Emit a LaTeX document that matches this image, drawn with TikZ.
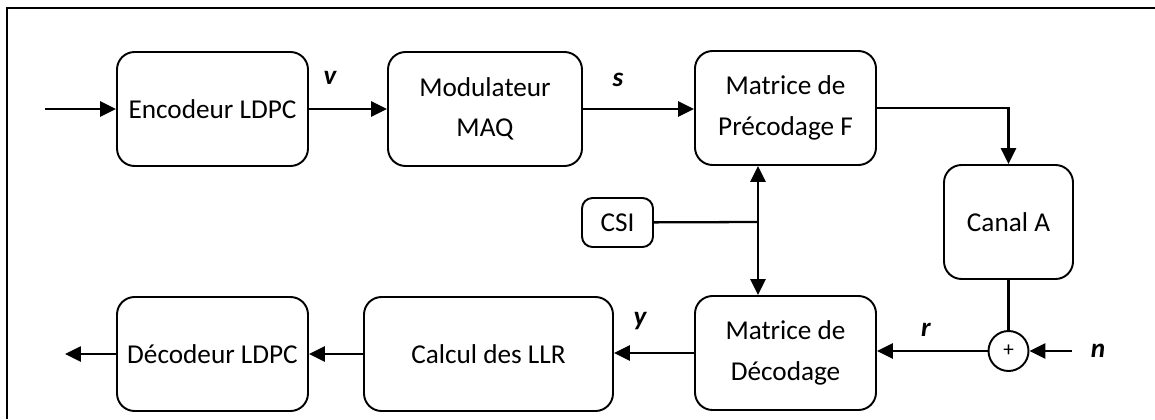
\documentclass[tikz,border=0pt]{standalone}
\usepackage{fontspec}
\setmainfont{Carlito}
\usetikzlibrary{arrows.meta}
\begin{document}
\begin{tikzpicture}[
    x=0.02cm, y=-0.02cm,
    >={Triangle[length=9pt, width=8.5pt]},
    line width=1.3pt,
    bloc/.style={draw, line width=1.1pt, rounded corners=10pt, align=center, inner sep=2pt,
                 minimum height=114*0.02cm, font=\fontsize{15.5}{23}\selectfont},
    lbl/.style={font=\fontsize{15.5}{18}\selectfont\bfseries\itshape, inner sep=0pt}
]
  \useasboundingbox (0,0) rectangle (1155,419);
  % frame
  \draw[line width=0.9pt] (7,419) -- (7,8) -- (1155,8);

  % nodes
  \node[bloc, minimum width=191*0.02cm] (enc)   at (212.5,109) {Encodeur LDPC};
  \node[bloc, minimum width=194*0.02cm] (mod)   at (485,109)   {Modulateur\\MAQ};
  \node[bloc, minimum width=181*0.02cm] (prec)  at (785.5,108) {Matrice de\\Précodage F};
  \node[bloc, minimum width=129*0.02cm] (canal) at (1008.5,222) {Canal A};
  \node[bloc, minimum width=71*0.02cm, minimum height=49*0.02cm, rounded corners=6pt] (csi) at (617.5,222.5) {CSI};
  \node[bloc, minimum width=181*0.02cm] (decmat) at (785.5,353) {Matrice de\\Décodage};
  \node[bloc, minimum width=249*0.02cm] (llr)   at (488.5,354) {Calcul des LLR};
  \node[bloc, minimum width=191*0.02cm] (dec)   at (212.5,354) {Décodeur LDPC};
  \node[draw, line width=1.1pt, circle, minimum size=40*0.02cm, inner sep=0pt, font=\fontsize{12}{14}\selectfont] (sum) at (1008.5,351) {+};

  \coordinate (in)  at (45,109);
  \coordinate (out) at (65,354);
  \coordinate (nin) at (1072,351);
  \coordinate (j)   at (758,222);

  % labels
  \node[lbl] (lv) at (330,78)   {v};
  \node[lbl] (ls) at (618,80)   {s};
  \node[lbl] (ly) at (640,321)  {y};
  \node[lbl] (lr) at (926,330)  {r};
  \node[lbl] (ln) at (1098,351) {n};

  % edges
  \draw[->] (in) -- (enc);
  \draw[->] (enc) -- (mod);
  \draw[->] (mod) -- (mod -| prec.west);
  \draw[->] (prec.east) -| (canal.north);
  \draw (canal) -- (sum);
  \draw[->] (nin) -- (sum);
  \draw[->] (sum) -- (sum -| decmat.east);
  \draw[->] (decmat.west) -- (decmat.west -| llr.east);
  \draw[->] (llr) -- (dec);
  \draw[->] (dec) -- (out);
  \draw[<->] (prec.south -| j) -- (decmat.north -| j);
  \draw (csi) -- (j);
\end{tikzpicture}
\end{document}
